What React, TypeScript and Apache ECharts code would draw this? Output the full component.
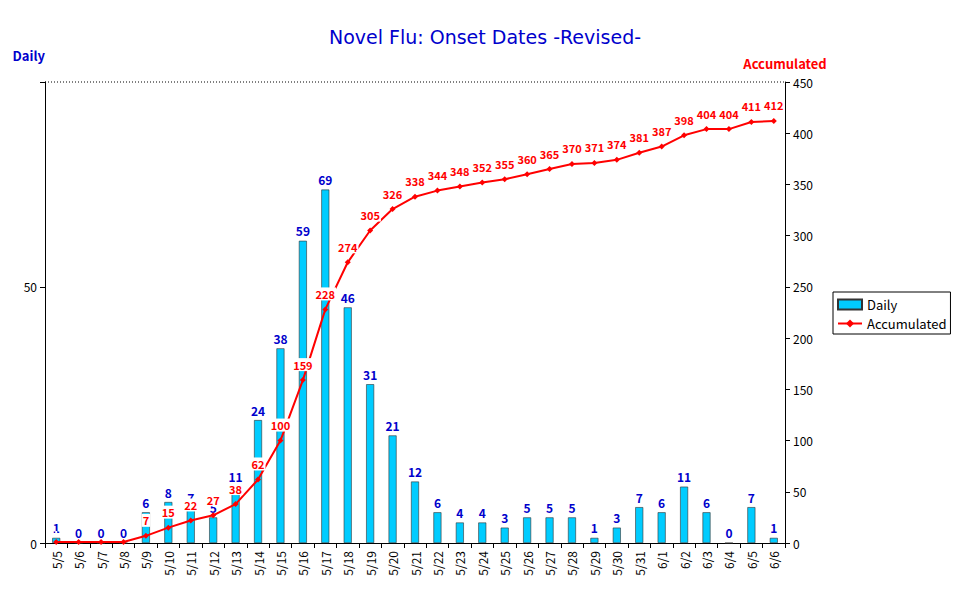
import { useEffect, useRef } from 'react'
import * as echarts from 'echarts'

const dates = ['5/5','5/6','5/7','5/8','5/9','5/10','5/11','5/12','5/13','5/14','5/15','5/16','5/17','5/18','5/19','5/20','5/21','5/22','5/23','5/24','5/25','5/26','5/27','5/28','5/29','5/30','5/31','6/1','6/2','6/3','6/4','6/5','6/6']
const daily = [1,0,0,0,6,8,7,5,11,24,38,59,69,46,31,21,12,6,4,4,3,5,5,5,1,3,7,6,11,6,0,7,1]
const accumulated = [1,1,1,1,7,15,22,27,38,62,100,159,228,274,305,326,338,344,348,352,355,360,365,370,371,374,381,387,398,404,404,411,412]

const font = '"Noto Sans CJK JP", "DejaVu Sans", sans-serif'

export default function App() {
  const ref = useRef<HTMLDivElement>(null)
  useEffect(() => {
    if (!ref.current) return
    const chart = echarts.init(ref.current, undefined, { renderer: 'svg' })
    chart.setOption({
      animation: false,
      backgroundColor: '#fff',
      textStyle: { fontFamily: font },
      title: {
        text: 'Novel Flu: Onset Dates -Revised-',
        left: 'center',
        top: 22,
        textStyle: { color: '#0000cc', fontSize: 19, fontWeight: 'normal', fontFamily: '"DejaVu Sans", sans-serif' },
      },
      legend: {
        orient: 'vertical',
        left: 833,
        top: 292,
        itemWidth: 24,
        itemHeight: 10,
        itemGap: 6,
        padding: [6, 4, 4, 4],
        borderColor: '#000',
        borderWidth: 1,
        textStyle: { fontSize: 13, color: '#000', fontFamily: font },
        data: [
          { name: 'Daily', icon: 'rect' },
          { name: 'Accumulated' },
        ],
      },
      grid: { left: 45, right: 185, top: 82, bottom: 61 },
      xAxis: {
        type: 'category',
        data: dates,
        axisLine: { lineStyle: { color: '#000' } },
        axisTick: { show: true, lineStyle: { color: '#000' } },
        axisLabel: { rotate: 90, color: '#000', fontSize: 12, interval: 0 },
      },
      yAxis: [
        {
          type: 'value',
          name: 'Daily',
          nameLocation: 'end',
          nameGap: 20,
          nameTextStyle: { color: '#0000cc', fontWeight: 'bold', fontSize: 13, align: 'right' },
          min: 0, max: 90, interval: 50,
          axisLine: { show: true, lineStyle: { color: '#000' } },
          axisTick: { show: true },
          axisLabel: { color: '#000', fontSize: 12, formatter: (v: number) => (v === 90 ? '' : String(v)) },
          splitLine: { show: false },
        },
        {
          type: 'value',
          name: 'Accumulated',
          nameLocation: 'end',
          nameGap: 12,
          nameTextStyle: { color: '#ff0000', fontWeight: 'bold', fontSize: 13 },
          position: 'right',
          min: 0, max: 450, interval: 50,
          axisLine: { show: true, lineStyle: { color: '#000' } },
          axisTick: { show: true },
          axisLabel: { color: '#000', fontSize: 12 },
          splitLine: { show: false },
        },
      ],
      graphic: [
        { type: 'line', shape: { x1: 45, y1: 82, x2: 785, y2: 82 }, style: { stroke: '#000', lineDash: [1, 2], lineWidth: 1 } },
      ],
      series: [
        {
          name: 'Daily',
          type: 'bar',
          data: daily,
          barWidth: 8,
          itemStyle: { color: '#00ccff', borderColor: '#333', borderWidth: 0.6 },
          label: { show: true, position: 'top', color: '#0000cc', fontWeight: 'bold', fontSize: 12, distance: 4 },
        },
        {
          name: 'Accumulated',
          type: 'line',
          yAxisIndex: 1,
          data: accumulated,
          symbol: 'diamond',
          symbolSize: 6,
          lineStyle: { color: '#ff0000', width: 2 },
          itemStyle: { color: '#ff0000' },
          label: {
            show: true,
            position: 'top',
            distance: 6,
            color: '#ff0000',
            fontWeight: 'bold',
            fontSize: 11,
            backgroundColor: '#fff',
            padding: [1, 1],
            formatter: (p: any) => (p.dataIndex < 4 ? '' : String(p.value)),
          },
          z: 3,
        },
      ],
    })
    return () => chart.dispose()
  }, [])
  return <div ref={ref} style={{ width: 970, height: 604, position: 'absolute', left: 0, top: 0 }} />
}
